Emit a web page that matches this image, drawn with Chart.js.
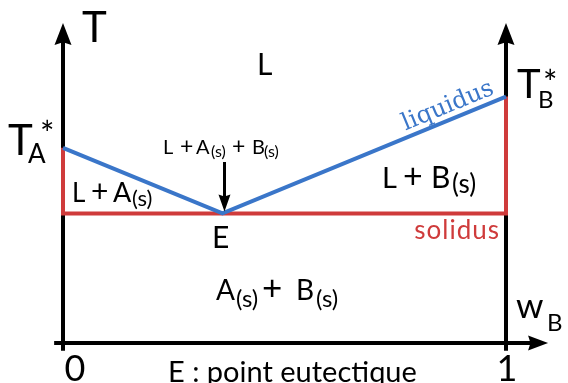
<!DOCTYPE html>
<html lang="fr">
<head>
<meta charset="utf-8">
<script src="https://cdn.jsdelivr.net/npm/chart.js@4.4.1/dist/chart.umd.min.js"></script>
<style>
    html, body { margin: 0; padding: 0; background: #fff; }
    #wrap { width: 568px; height: 383px; }
</style>
</head>
<body>
<div id="wrap"><canvas id="diagramme" width="568" height="383"></canvas></div>
<script>
// --- Données du diagramme ---
const liquidusW = [0, 0.36, 1];            // A pur, point eutectique, B pur
const liquidusT = [61, 40.5, 77];          // T*A, T(E), T*B
const solidusW = [0, 0, 1, 1];
const solidusT = [61, 40.5, 40.5, 77];
const tickValues = [0, 1];
const tickLabels = ['0', '1'];

const FONT = 'Lato, sans-serif';
const BLEU = '#3a76c9';
const ROUGE = '#cf3b3b';

function toPoints(ws, ts) {
    return ws.map((w, i) => ({ x: w, y: ts[i] }));
}

// --- Helpers de dessin ---
function arrowHead(ctx, tx, ty, dx, dy, len, half) {
    const bx = tx - dx * len, by = ty - dy * len;
    ctx.beginPath();
    ctx.moveTo(tx, ty);
    ctx.lineTo(bx - dy * half, by + dx * half);
    ctx.lineTo(bx + dx * len * 0.12, by + dy * len * 0.12);
    ctx.lineTo(bx + dy * half, by - dx * half);
    ctx.closePath();
    ctx.fill();
}

// parts : [texte, taille, décalage vertical, x absolu (optionnel)]
function richText(ctx, x, y, parts, color) {
    ctx.fillStyle = color || '#000';
    ctx.textBaseline = 'alphabetic';
    ctx.textAlign = 'left';
    let cx = x;
    parts.forEach(p => {
        if (p[3] !== undefined) cx = p[3];
        ctx.font = p[1] + 'px ' + FONT;
        ctx.fillText(p[0], cx, y + (p[2] || 0));
        cx += ctx.measureText(p[0]).width;
    });
}

const axesPlugin = {
    id: 'axes',
    beforeDatasetsDraw(chart) {
        const { ctx, scales: { x, y } } = chart;
        const y0 = y.getPixelForValue(0);
        const yBas = y.getPixelForValue(-2.4);
        const yHaut = y.getPixelForValue(100);
        ctx.save();
        ctx.strokeStyle = '#000';
        ctx.fillStyle = '#000';
        ctx.lineWidth = 4;
        ctx.lineCap = 'butt';

        // axe des abscisses
        const xDebut = x.getPixelForValue(-0.02);
        const xFin = x.getPixelForValue(1.095);
        ctx.beginPath();
        ctx.moveTo(xDebut, y0);
        ctx.lineTo(xFin - 16, y0);
        ctx.stroke();
        arrowHead(ctx, xFin, y0, 1, 0, 20, 7.5);

        // axes verticaux (A pur et B pur)
        tickValues.forEach(v => {
            const px = x.getPixelForValue(v);
            ctx.beginPath();
            ctx.moveTo(px, yBas);
            ctx.lineTo(px, yHaut + 18);
            ctx.stroke();
            arrowHead(ctx, px, yHaut, 0, -1, 22, 8.5);
        });
        ctx.restore();
    },
    afterDatasetsDraw(chart) {
        const { ctx, scales: { x, y } } = chart;
        ctx.save();

        // graduations
        ctx.font = '36px ' + FONT;
        ctx.fillStyle = '#000';
        ctx.textAlign = 'center';
        tickValues.forEach((v, i) => {
            const px = x.getPixelForValue(v);
            ctx.fillText(tickLabels[i], px + (i === 0 ? 12 : 1), 381);
        });

        // titres des axes
        richText(ctx, 82, 42, [['T', 42]]);
        richText(ctx, 516, 318, [['w', 35], ['B', 24, 13, 547]]);

        // températures de fusion
        richText(ctx, 8, 155, [['T', 42], ['A', 26, 8, 28]]);
        richText(ctx, 40, 146, [['*', 34]]);
        richText(ctx, 517, 98, [['T', 40], ['B', 24, 10, 538]]);
        richText(ctx, 543, 95, [['*', 34]]);

        // domaines
        richText(ctx, 257, 75, [['L', 30]]);
        richText(ctx, 72, 202, [['L', 26], ['+', 30, 0, 91], ['A', 27, 0, 113], ['(s)', 22, 4, 132]]);
        richText(ctx, 382, 188, [['L', 29], ['+', 34, 0, 403], ['B', 30, 0, 431], ['(s)', 26, 5, 452]]);
        richText(ctx, 216, 300, [['A', 28], ['(s)', 24, 7, 236], ['+', 35, 0, 262], ['B', 28, 0, 296], ['(s)', 24, 7, 316]]);
        richText(ctx, 163, 154, [['L', 20], ['+', 23, 0, 180], ['A', 20, 0, 196], ['(s)', 16, 3, 211],
                                 ['+', 23, 0, 232], ['B', 20, 0, 252], ['(s)', 16, 3, 264]]);

        // flèche vers le point eutectique
        const ex = x.getPixelForValue(liquidusW[1]) + 2;
        const ey = y.getPixelForValue(liquidusT[1]) - 2;
        ctx.strokeStyle = '#000';
        ctx.fillStyle = '#000';
        ctx.lineWidth = 3;
        ctx.beginPath();
        ctx.moveTo(ex, 162);
        ctx.lineTo(ex, ey - 12);
        ctx.stroke();
        arrowHead(ctx, ex, ey, 0, 1, 17, 6);

        richText(ctx, 212, 248, [['E', 30]]);
        richText(ctx, 168, 382, [['E : point eutectique', 29]]);

        // noms des courbes
        ctx.font = '26px ' + FONT;
        ctx.letterSpacing = '1px';
        ctx.fillStyle = ROUGE;
        ctx.textAlign = 'right';
        ctx.fillText('solidus', 500, 239);
        ctx.letterSpacing = '0px';

        const x1 = x.getPixelForValue(liquidusW[1]), y1 = y.getPixelForValue(liquidusT[1]);
        const x2 = x.getPixelForValue(liquidusW[2]), y2 = y.getPixelForValue(liquidusT[2]);
        const ang = Math.atan2(y2 - y1, x2 - x1);
        const t = 0.655;
        ctx.translate(x1 + (x2 - x1) * t, y1 + (y2 - y1) * t);
        ctx.rotate(ang);
        ctx.font = '24px "DejaVu Serif", serif';
        ctx.fillStyle = BLEU;
        ctx.textAlign = 'left';
        ctx.fillText('liquidus', 0, -7);
        ctx.restore();
    }
};

new Chart(document.getElementById('diagramme'), {
    type: 'scatter',
    data: {
        datasets: [
            {
                label: 'liquidus',
                data: toPoints(liquidusW, liquidusT),
                showLine: true,
                borderColor: BLEU,
                borderWidth: 4,
                pointRadius: 0,
                clip: false,
                order: 0
            },
            {
                label: 'solidus',
                data: toPoints(solidusW, solidusT),
                showLine: true,
                borderColor: ROUGE,
                borderWidth: 4,
                borderJoinStyle: 'miter',
                pointRadius: 0,
                clip: false,
                order: 1
            }
        ]
    },
    options: {
        responsive: false,
        animation: false,
        events: [],
        layout: { padding: { left: 63, right: 62, top: 23, bottom: 40 } },
        plugins: { legend: { display: false }, tooltip: { enabled: false } },
        scales: {
            x: { type: 'linear', min: 0, max: 1, display: false },
            y: { type: 'linear', min: 0, max: 100, display: false }
        }
    },
    plugins: [axesPlugin]
});
</script>
</body>
</html>
